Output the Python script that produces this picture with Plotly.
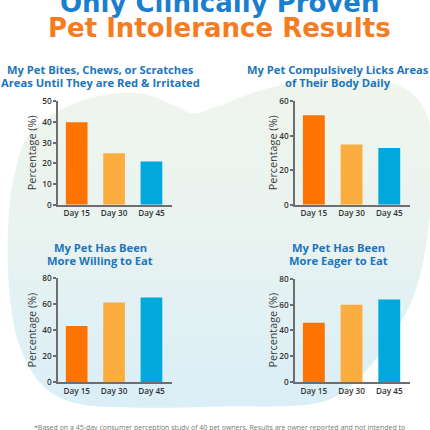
import plotly.graph_objects as go

# ---- data ----
categories = ["Day 15", "Day 30", "Day 45"]
bites_scratches = [40, 25, 21]
licks_body = [52, 35, 33]
willing_to_eat = [43, 61, 65]
eager_to_eat = [46, 60, 64]

bar_colors = ["#ff7300", "#fbad3f", "#00a8db"]

chart_titles = [
    ["My Pet Bites, Chews, or Scratches", "Areas Until They are Red & Irritated"],
    ["My Pet Compulsively Licks Areas", "of Their Body Daily"],
    ["My Pet Has Been", "More Willing to Eat"],
    ["My Pet Has Been", "More Eager to Eat"],
]
y_max = [50, 60, 80, 80]
y_dtick = [10, 20, 20, 20]
series = [bites_scratches, licks_body, willing_to_eat, eager_to_eat]

W = H = 430


def px(x):
    return x / W


def py(y):
    return 1 - y / H


fig = go.Figure()

# ---- background blob (decoration) on its own full-page axes ----
blob_x = [60, 100, 143, 170, 193, 215, 250, 300, 367, 410, 428, 432, 430, 420, 407, 380, 347,
          320, 220, 130, 73, 43, 20, 10, 8, 15, 30, 60]
blob_y = [107, 92, 90, 100, 110, 104, 90, 77, 73, 88, 115, 170, 215, 277, 313, 357, 393,
          407, 411, 412, 407, 390, 350, 300, 230, 170, 130, 107]
fig.add_trace(go.Scatter(
    x=blob_x, y=blob_y, mode="lines", line=dict(width=0, shape="spline"),
    fill="toself",
    fillgradient=dict(type="vertical",
                      colorscale=[[0, "#eff5ed"], [0.45, "#e9f3f0"], [1, "#d9eef8"]],
                      start=80, stop=410),
    hoverinfo="skip", showlegend=False, xaxis="x", yaxis="y"))

layout_axes = dict(
    xaxis=dict(domain=[0, 1], range=[0, W], visible=False, fixedrange=True),
    yaxis=dict(domain=[0, 1], range=[H, 0], visible=False, fixedrange=True),
)

# panel geometry in pixels: (x_left, x_right, y_top, y_bottom)
panels = [(58, 172, 98, 204), (295, 410, 98, 204), (58, 172, 279, 386), (295, 410, 280, 386)]

axis_color = "#6e6e6e"
tick_font = dict(family="Open Sans", size=8.2, color="#333333", weight=600)

for i, (vals, (xl, xr, yt, yb)) in enumerate(zip(series, panels)):
    n = i + 2
    fig.add_trace(go.Bar(
        x=categories, y=vals, marker=dict(color=bar_colors, line=dict(width=0)),
        xaxis=f"x{n}", yaxis=f"y{n}", showlegend=False, hoverinfo="x+y"))
    layout_axes[f"xaxis{n}"] = dict(
        domain=[px(xl), px(xr)], anchor=f"y{n}", range=[-0.5, 2.55],
        showline=True, linecolor=axis_color, linewidth=1.5, ticks="",
        tickfont=tick_font, showgrid=False, zeroline=False, fixedrange=True)
    layout_axes[f"yaxis{n}"] = dict(
        domain=[py(yb), py(yt)], anchor=f"x{n}", range=[0, y_max[i]], dtick=y_dtick[i],
        showline=True, linecolor=axis_color, linewidth=1.5, ticks="outside", ticklen=3,
        tickcolor=axis_color, tickwidth=1.5, tickfont=tick_font,
        showgrid=False, zeroline=False, fixedrange=True)

fig.update_layout(**layout_axes)

annotations = []
# main title
annotations.append(dict(text="<b>Only Clinically Proven</b>", x=px(219), y=py(-3), xref="paper", yref="paper",
                        xanchor="center", yanchor="middle", showarrow=False,
                        font=dict(family="DejaVu Sans", size=26, color="#1b7fd0")))
annotations.append(dict(text="<b>Pet Intolerance Results</b>", x=px(219), y=py(23), xref="paper", yref="paper",
                        xanchor="center", yanchor="middle", showarrow=False,
                        font=dict(family="DejaVu Sans", size=26, color="#f57c1f")))

title_centers = [(100, 65, 78.5), (338, 65, 78.5), (100, 247.5, 261), (338, 247.5, 261)]
for (cx, y1, y2), lines in zip(title_centers, chart_titles):
    for yy, t in zip((y1, y2), lines):
        annotations.append(dict(text=f"<b>{t}</b>", x=px(cx), y=py(yy), xref="paper", yref="paper",
                                xanchor="center", yanchor="middle", showarrow=False,
                                font=dict(family="Open Sans", size=11.2, color="#1d75bb")))

ytitle_pos = [(31, 151), (272, 151), (31, 333), (272, 333)]
for (cx, cy) in ytitle_pos:
    annotations.append(dict(text="Percentage (%)", x=px(cx), y=py(cy), xref="paper", yref="paper",
                            xanchor="center", yanchor="middle", showarrow=False, textangle=-90,
                            font=dict(family="Open Sans", size=10.8, color="#3a3a3a")))

annotations.append(dict(
    text="*Based on a 45-day consumer perception study of 40 pet owners. Results are owner reported and not intended to",
    x=px(219), y=py(433), xref="paper", yref="paper", xanchor="center", yanchor="middle",
    showarrow=False, font=dict(family="Open Sans", size=7, color="#777777")))

fig.update_layout(
    width=W, height=H, margin=dict(l=0, r=0, t=0, b=0),
    paper_bgcolor="white", plot_bgcolor="rgba(0,0,0,0)",
    bargap=0.42, annotations=annotations, showlegend=False,
)

fig.write_html("out.html", config={"displayModeBar": False})
